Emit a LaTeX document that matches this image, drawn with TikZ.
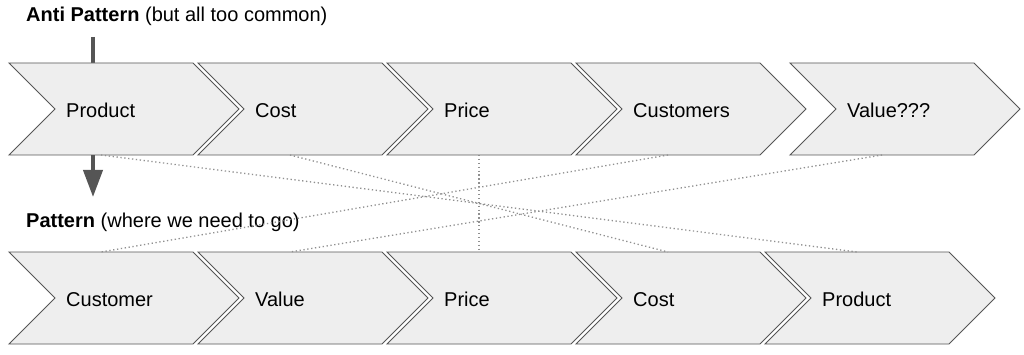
\documentclass[tikz,border=0pt]{standalone}
\usepackage{fontspec}
\setmainfont{Liberation Sans}
\usetikzlibrary{arrows.meta}
\definecolor{chevfill}{HTML}{EEEEEE}
\definecolor{chevline}{HTML}{555555}
\definecolor{arrowgray}{HTML}{555555}
\definecolor{dotgray}{HTML}{909090}
\tikzset{
  chevstyle/.style={fill=chevfill, draw=chevline, line width=0.9pt, line join=miter},
  lbl/.style={anchor=base west, inner sep=0pt, font=\fontsize{20}{24}\selectfont, text=black},
  heading/.style={anchor=base west, inner sep=0pt, font=\fontsize{20}{24}\selectfont, text=black},
  dotlink/.style={draw=dotgray, line width=1.3pt, dash pattern=on 1.3pt off 2.6pt},
  bigarrow/.style={draw=arrowgray, line width=4pt, -{Triangle[width=19pt,length=27pt]}, arrowgray}
}
\newcommand\chev[4]{%
  \draw[chevstyle] (#2,#3-46) -- ++(184,0) -- ++(46,46) -- ++(-46,46) -- ++(-184,0) -- ++(46,-46) -- cycle;
  \node[lbl] (#1) at (#2+57,#3+8.5) {#4};
  \coordinate (#1-t) at (#2+92,#3-46);
  \coordinate (#1-b) at (#2+92,#3+46);
}
\begin{document}
\begin{tikzpicture}[x=1pt,y=-1pt]
\useasboundingbox (0,0) rectangle (1024,355);
\node[heading] (anti) at (26,22) {\textbf{Anti Pattern} (but all too common)};
\node[heading] (pat) at (26,227) {\textbf{Pattern} (where we need to go)};
\coordinate (arrS) at (93,37);
\coordinate (arrE) at (93,197);
\draw[bigarrow] (arrS) -- (arrE);
% top row
\chev{tprod}{9}{109}{Product}
\chev{tcost}{198}{109}{Cost}
\chev{tprice}{387}{109}{Price}
\chev{tcust}{576}{109}{Customers}
\chev{tval}{790}{109}{Value???}
% bottom row
\chev{bcust}{9}{298}{Customer}
\chev{bval}{198}{298}{Value}
\chev{bprice}{387}{298}{Price}
\chev{bcost}{576}{298}{Cost}
\chev{bprod}{765}{298}{Product}
% links
\draw[dotlink] (tprod-b) -- (bprod-t);
\draw[dotlink] (tcost-b) -- (bcost-t);
\draw[dotlink] (tprice-b) -- (bprice-t);
\draw[dotlink] (tcust-b) -- (bcust-t);
\draw[dotlink] (tval-b) -- (bval-t);
\end{tikzpicture}
\end{document}
